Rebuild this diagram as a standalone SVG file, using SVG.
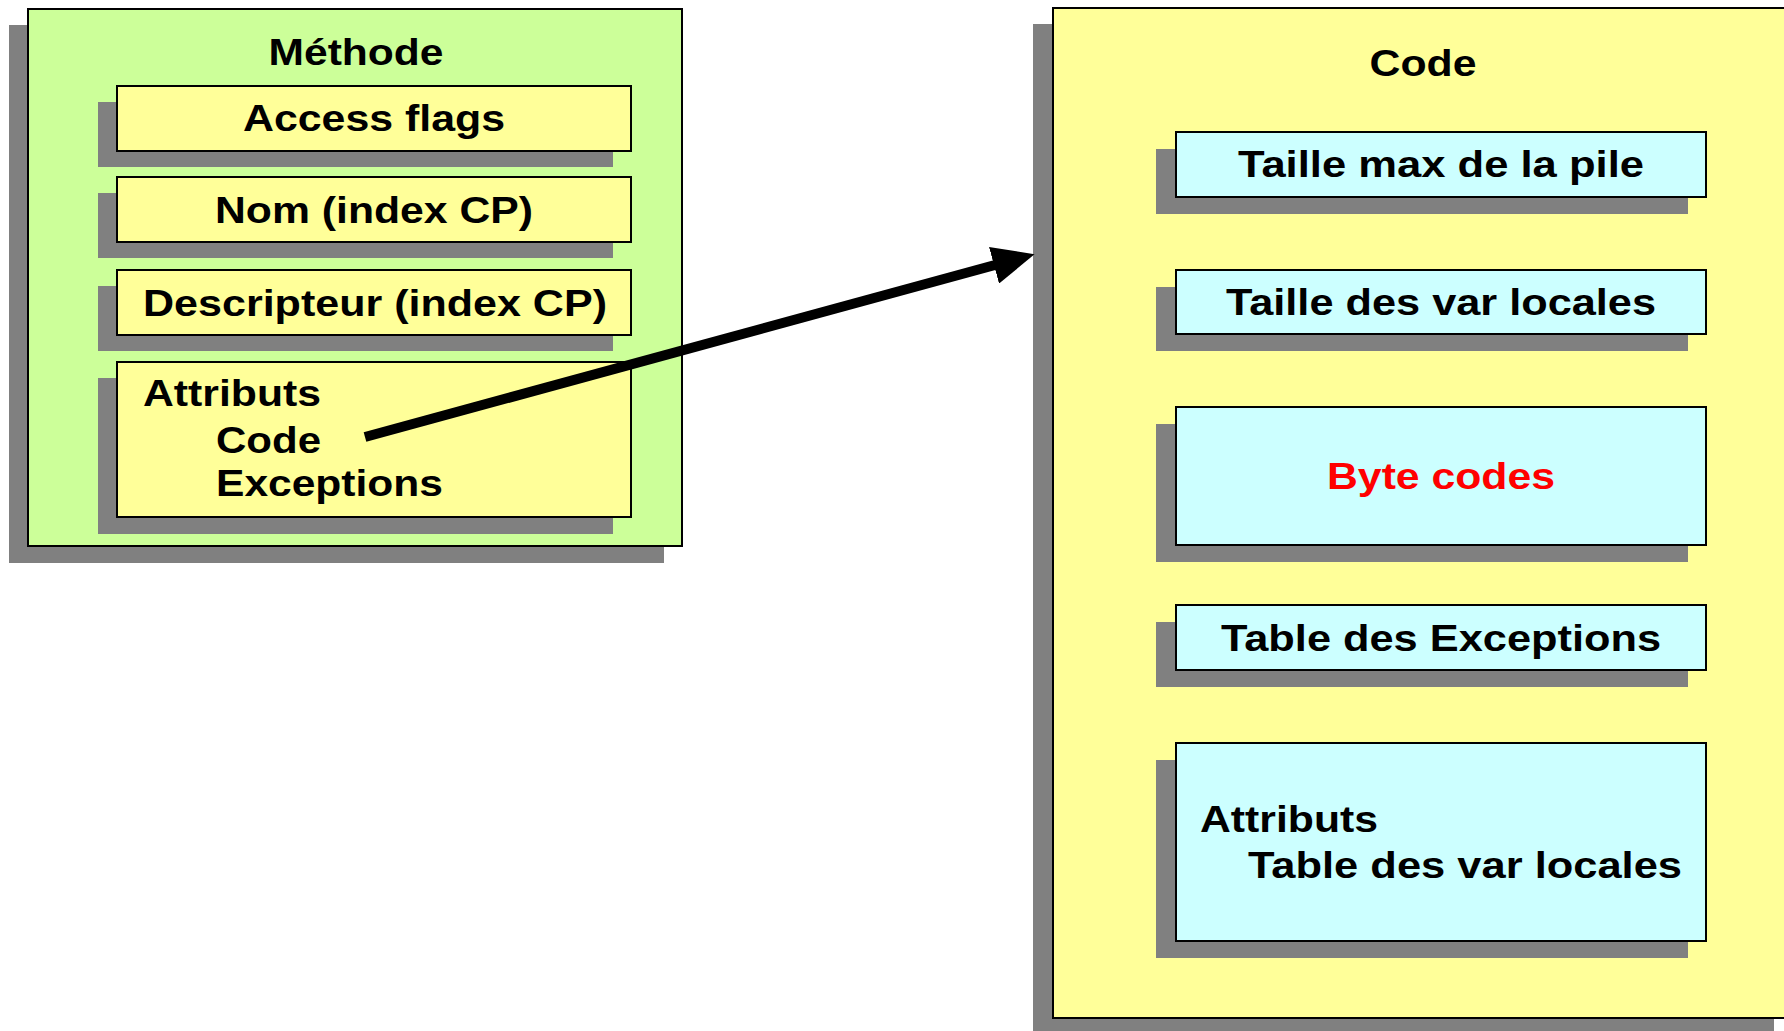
<svg xmlns="http://www.w3.org/2000/svg" width="1784" height="1031" viewBox="0 0 1784 1031">
  <style>
    .shadow { fill: #808080; }
    .outer-green { fill: #CCFF99; stroke: #000; stroke-width: 2; }
    .outer-yellow { fill: #FFFF99; stroke: #000; stroke-width: 2; }
    .field-yellow { fill: #FFFF99; stroke: #000; stroke-width: 2; }
    .field-cyan { fill: #CCFFFF; stroke: #000; stroke-width: 2; }
    text { font-family: "Liberation Sans", Arial, sans-serif; font-weight: bold; font-size: 36px; fill: #000; }
    .mid { text-anchor: middle; }
    .red { fill: #FF0000; }
    .connector { stroke: #000; stroke-width: 10; fill: none; }
  </style>
  <defs>
    <marker id="arrowhead" markerUnits="userSpaceOnUse" markerWidth="42" markerHeight="38" viewBox="0 0 42 38" refX="1" refY="19" orient="auto">
      <path d="M0,0 L42,19 L0,38 Z" fill="#000"/>
    </marker>
  </defs>
  <rect width="1784" height="1031" fill="#fff"/>

  <!-- Method structure -->
  <g id="methode">
    <rect class="shadow" x="9" y="25" width="655" height="538"/>
    <rect class="outer-green" x="28" y="9" width="654" height="537"/>
    <text class="mid" x="356" y="65" textLength="175" lengthAdjust="spacingAndGlyphs">Méthode</text>
  </g>
  <g id="access-flags">
    <rect class="shadow" x="98" y="102" width="515" height="65"/>
    <rect class="field-yellow" x="117" y="86" width="514" height="65"/>
    <text class="mid" x="374" y="131" textLength="262" lengthAdjust="spacingAndGlyphs">Access flags</text>
  </g>
  <g id="nom">
    <rect class="shadow" x="98" y="193" width="515" height="65"/>
    <rect class="field-yellow" x="117" y="177" width="514" height="65"/>
    <text class="mid" x="374" y="223" textLength="318" lengthAdjust="spacingAndGlyphs">Nom (index CP)</text>
  </g>
  <g id="descripteur">
    <rect class="shadow" x="98" y="286" width="515" height="65"/>
    <rect class="field-yellow" x="117" y="270" width="514" height="65"/>
    <text class="mid" x="375" y="316" textLength="464" lengthAdjust="spacingAndGlyphs">Descripteur (index CP)</text>
  </g>
  <g id="attributs-methode">
    <rect class="shadow" x="98" y="378" width="515" height="156"/>
    <rect class="field-yellow" x="117" y="362" width="514" height="155"/>
    <text x="143" y="406" textLength="178" lengthAdjust="spacingAndGlyphs">Attributs</text>
    <text x="216" y="453" textLength="105" lengthAdjust="spacingAndGlyphs">Code</text>
    <text x="216" y="496" textLength="227" lengthAdjust="spacingAndGlyphs">Exceptions</text>
  </g>

  <!-- Code attribute -->
  <g id="code">
    <rect class="shadow" x="1033" y="24" width="741" height="1010"/>
    <rect class="outer-yellow" x="1053" y="8" width="740" height="1010"/>
    <text class="mid" x="1423" y="76" textLength="107" lengthAdjust="spacingAndGlyphs">Code</text>
  </g>
  <g id="taille-pile">
    <rect class="shadow" x="1156" y="149" width="532" height="65"/>
    <rect class="field-cyan" x="1176" y="132" width="530" height="65"/>
    <text class="mid" x="1441" y="177" textLength="406" lengthAdjust="spacingAndGlyphs">Taille max de la pile</text>
  </g>
  <g id="taille-locales">
    <rect class="shadow" x="1156" y="287" width="532" height="64"/>
    <rect class="field-cyan" x="1176" y="270" width="530" height="64"/>
    <text class="mid" x="1441" y="315" textLength="430" lengthAdjust="spacingAndGlyphs">Taille des var locales</text>
  </g>
  <g id="byte-codes">
    <rect class="shadow" x="1156" y="424" width="532" height="138"/>
    <rect class="field-cyan" x="1176" y="407" width="530" height="138"/>
    <text class="mid red" x="1441" y="489" textLength="228" lengthAdjust="spacingAndGlyphs">Byte codes</text>
  </g>
  <g id="table-exceptions">
    <rect class="shadow" x="1156" y="622" width="532" height="65"/>
    <rect class="field-cyan" x="1176" y="605" width="530" height="65"/>
    <text class="mid" x="1441" y="651" textLength="440" lengthAdjust="spacingAndGlyphs">Table des Exceptions</text>
  </g>
  <g id="attributs-code">
    <rect class="shadow" x="1156" y="760" width="532" height="198"/>
    <rect class="field-cyan" x="1176" y="743" width="530" height="198"/>
    <text x="1200" y="832" textLength="178" lengthAdjust="spacingAndGlyphs">Attributs</text>
    <text x="1248" y="878" textLength="434" lengthAdjust="spacingAndGlyphs">Table des var locales</text>
  </g>

  <!-- Connectors -->
  <g id="connectors">
    <line class="connector" x1="365" y1="437" x2="995" y2="265" marker-end="url(#arrowhead)"/>
  </g>
</svg>
